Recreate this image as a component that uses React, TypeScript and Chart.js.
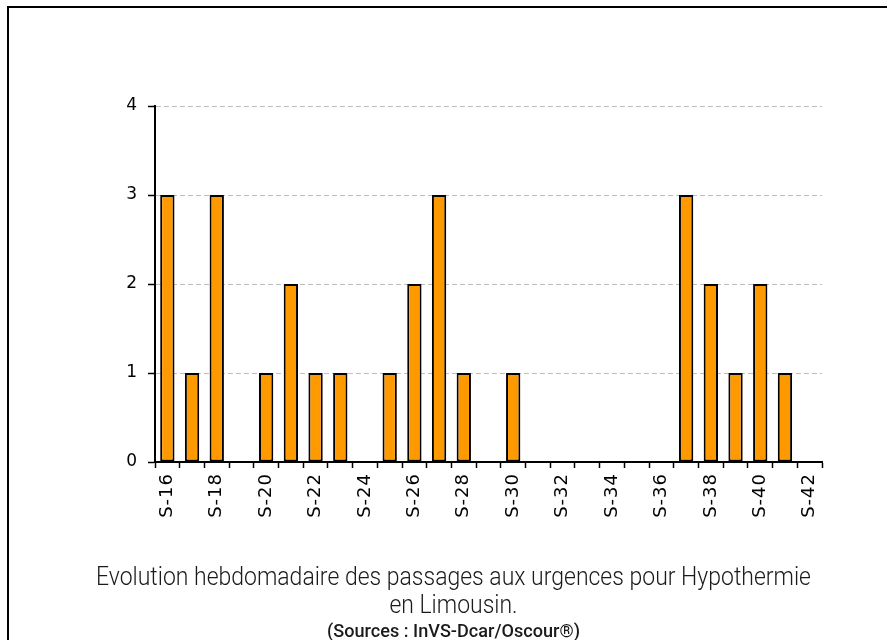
import React, { useEffect, useRef } from "react";
import { Chart, registerables } from "chart.js";

Chart.register(...registerables);

const weeks = [
  "S-16", "S-17", "S-18", "S-19", "S-20", "S-21", "S-22", "S-23", "S-24",
  "S-25", "S-26", "S-27", "S-28", "S-29", "S-30", "S-31", "S-32", "S-33",
  "S-34", "S-35", "S-36", "S-37", "S-38", "S-39", "S-40", "S-41", "S-42",
];
const passages = [3, 1, 3, 0, 1, 2, 1, 1, 0, 1, 2, 3, 1, 0, 1, 0, 0, 0, 0, 0, 0, 3, 2, 1, 2, 1, 0];
const yTicks = [0, 1, 2, 3, 4];
const captionLine1 = "Evolution hebdomadaire des passages aux urgences pour Hypothermie";
const captionLine2 = "en Limousin.";
const captionLine3 = "(Sources : InVS-Dcar/Oscour®)";

const framePlugin = {
  id: "frameAndCaption",
  beforeDraw(chart: any) {
    (chart.ctx as any).letterSpacing = "1px";
  },
  afterDraw(chart: any) {
    const ctx = chart.ctx as CanvasRenderingContext2D;
    (ctx as any).letterSpacing = "0px";
    ctx.save();
    ctx.strokeStyle = "#000";
    ctx.lineWidth = 2;
    ctx.beginPath();
    ctx.moveTo(8, 640);
    ctx.lineTo(8, 7);
    ctx.lineTo(887, 7);
    ctx.stroke();

    const cx = 453.5;
    ctx.fillStyle = "#1a1a1a";
    ctx.textBaseline = "alphabetic";
    ctx.textAlign = "left";
    const f1 = "300 25px Roboto";
    ctx.font = f1;
    const w1 = ctx.measureText(captionLine1).width;
    const sx = 715 / w1;
    const drawScaled = (t: string, y: number, font: string, scale: number) => {
      ctx.font = font;
      const w = ctx.measureText(t).width * scale;
      ctx.save();
      ctx.translate(cx - w / 2, y);
      ctx.scale(scale, 1);
      ctx.fillText(t, 0, 0);
      ctx.restore();
    };
    drawScaled(captionLine1, 585, f1, sx);
    drawScaled(captionLine2, 613, f1, sx);
    const f3 = "500 19px Roboto";
    ctx.font = f3;
    const w3 = ctx.measureText(captionLine3).width;
    drawScaled(captionLine3, 637, f3, 253 / w3);
    ctx.restore();
  },
};

export default function App() {
  const ref = useRef<HTMLCanvasElement | null>(null);
  useEffect(() => {
    if (!ref.current) return;
    const chart = new Chart(ref.current, {
      type: "bar",
      data: {
        labels: weeks,
        datasets: [
          {
            data: passages,
            backgroundColor: "#FF9900",
            borderColor: "#000000",
            borderWidth: 2,
            borderSkipped: false,
            barPercentage: 0.58,
            categoryPercentage: 1,
          },
        ],
      },
      options: {
        animation: false,
        responsive: false,
        maintainAspectRatio: false,
        layout: { padding: { left: 105, top: 106, right: 65, bottom: 78 } },
        plugins: { legend: { display: false }, tooltip: { enabled: false }, title: { display: false } },
        scales: {
          x: {
            offset: true,
            afterFit: (s: any) => { s.height = 100; },
            grid: {
              offset: true,
              drawOnChartArea: false,
              drawTicks: true,
              tickLength: 6,
              tickColor: "#000",
              tickWidth: 1.5,
            },
            border: { display: true, color: "#000", width: 2 },
            ticks: {
              autoSkip: false,
              maxRotation: 90,
              minRotation: 90,
              padding: 5,
              color: "#000",
              font: { family: "'DejaVu Sans', sans-serif", size: 18 },
              callback: (_v: any, i: number) => (i % 2 === 0 ? weeks[i] : ""),
            },
          },
          y: {
            min: 0,
            max: 4,
            afterFit: (s: any) => { s.width = 50; },
            afterBuildTicks: (s: any) => { s.ticks = yTicks.map((v) => ({ value: v })); },
            grid: {
              color: "#BFBFBF",
              lineWidth: 1,
              drawTicks: true,
              tickLength: 7,
              tickColor: "#000",
              tickWidth: 1.5,
              tickBorderDash: [],
            },
            border: { display: true, color: "#000", width: 2, dash: [5, 3] },
            ticks: {
              padding: 10,
              color: "#000",
              font: { family: "'DejaVu Sans', sans-serif", size: 17 },
            },
          },
        },
      },
      plugins: [framePlugin],
    });
    return () => chart.destroy();
  }, []);
  return (
    <div style={{ position: "absolute", left: 0, top: 0, width: 887, height: 640, background: "#fff" }}>
      <canvas ref={ref} width={887} height={640} style={{ display: "block" }} />
    </div>
  );
}
